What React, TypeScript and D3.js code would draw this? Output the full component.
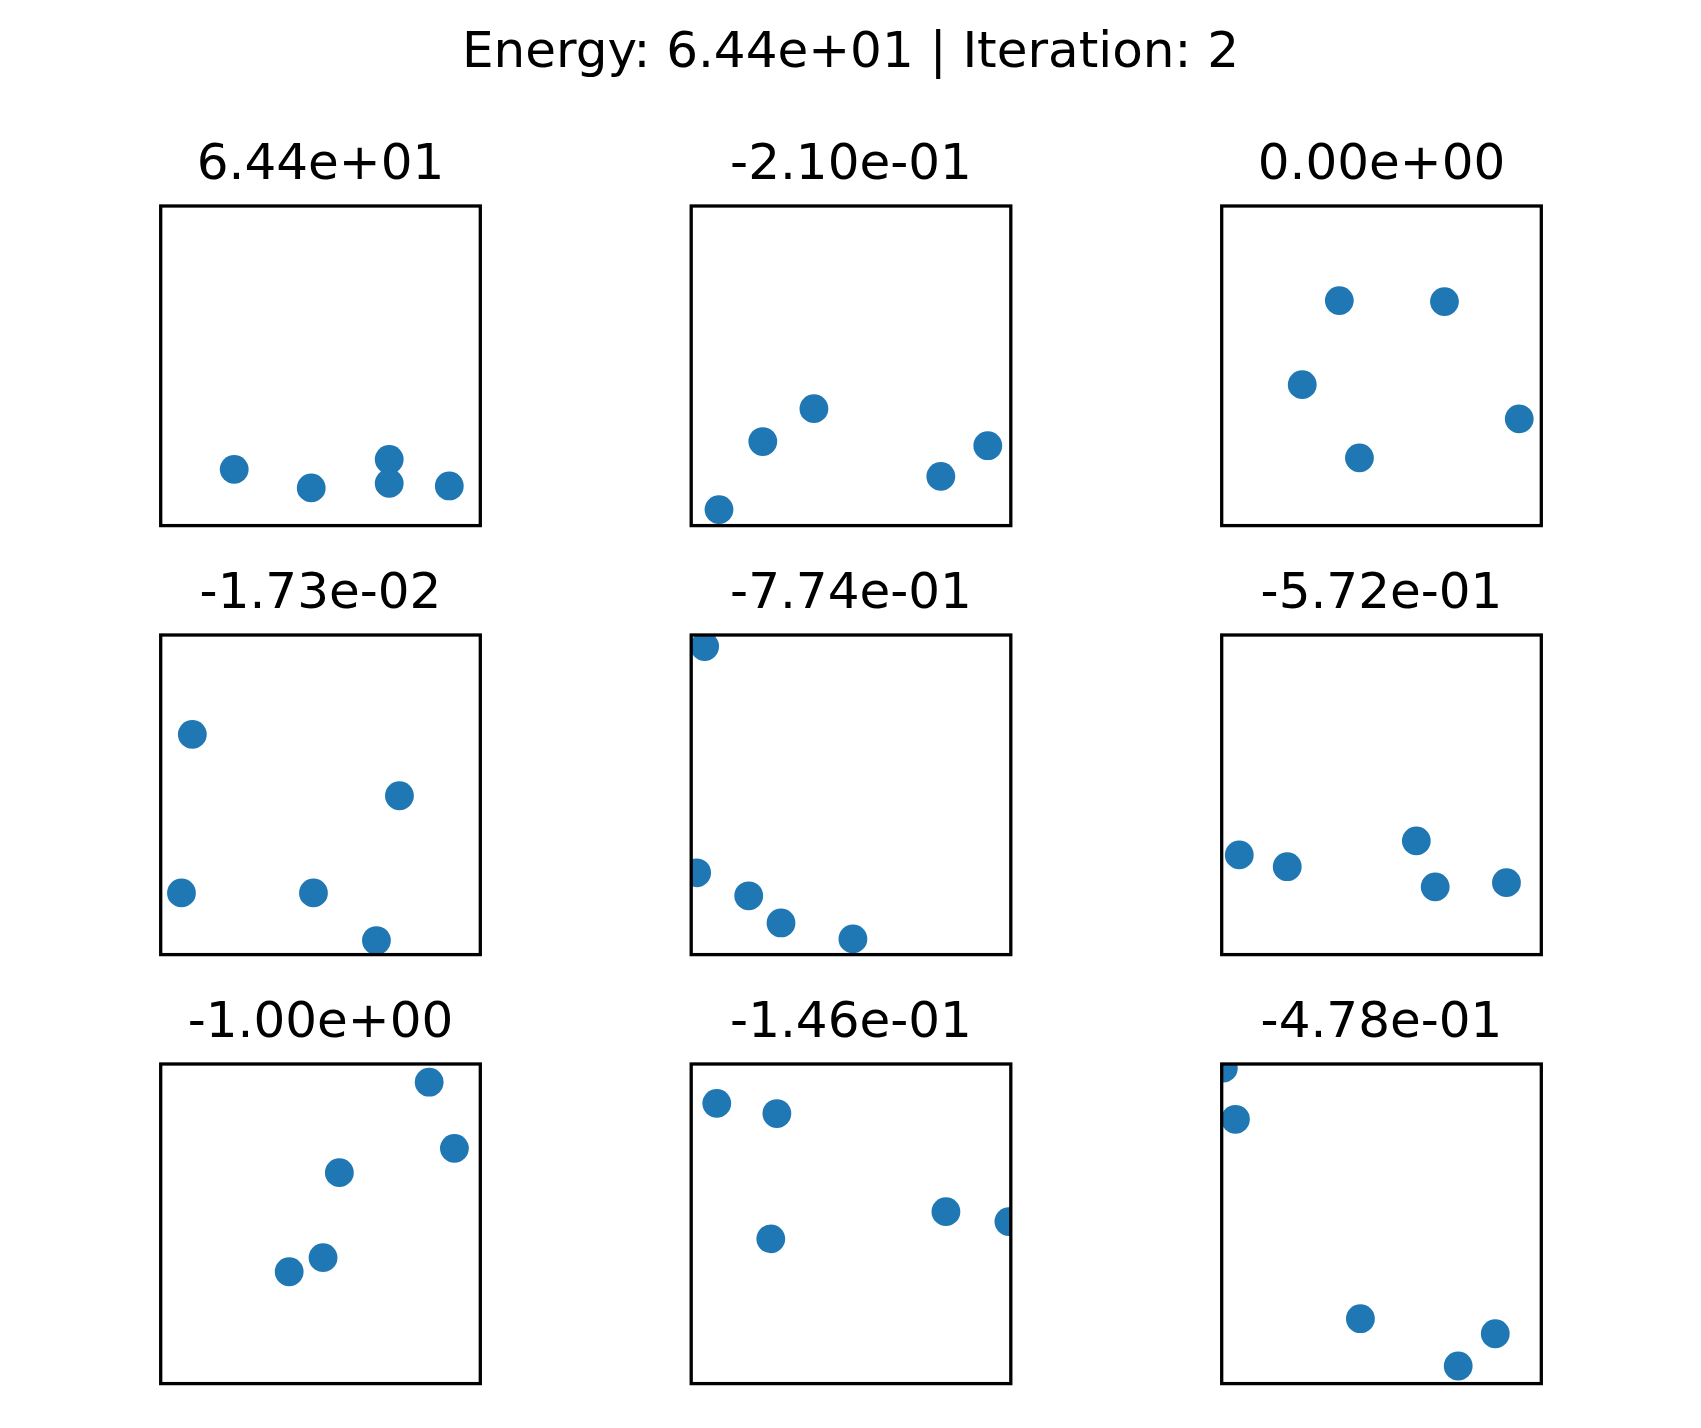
import React, { useEffect, useRef } from 'react';
import * as d3 from 'd3';

// Figure-level title
const suptitle = 'Energy: 6.44e+01 | Iteration: 2';

// One title per panel (row-major, 3x3)
const panelTitles = [
  '6.44e+01', '-2.10e-01', '0.00e+00',
  '-1.73e-02', '-7.74e-01', '-5.72e-01',
  '-1.00e+00', '-1.46e-01', '-4.78e-01',
];

// Point x positions per panel (axes run 0..1)
const panelX = [
  [0.230, 0.471, 0.715, 0.715, 0.903],
  [0.087, 0.224, 0.384, 0.781, 0.928],
  [0.368, 0.697, 0.252, 0.931, 0.431],
  [0.099, 0.747, 0.065, 0.478, 0.675],
  [0.042, 0.017, 0.180, 0.281, 0.506],
  [0.055, 0.205, 0.609, 0.668, 0.891],
  [0.840, 0.919, 0.559, 0.508, 0.402],
  [0.080, 0.268, 0.797, 0.994, 0.249],
  [0.005, 0.043, 0.434, 0.856, 0.740],
];

// Point y positions per panel
const panelY = [
  [0.176, 0.118, 0.207, 0.132, 0.124],
  [0.050, 0.263, 0.366, 0.154, 0.250],
  [0.704, 0.701, 0.441, 0.334, 0.212],
  [0.689, 0.497, 0.193, 0.193, 0.044],
  [0.964, 0.256, 0.184, 0.099, 0.049],
  [0.312, 0.275, 0.356, 0.212, 0.225],
  [0.943, 0.736, 0.660, 0.394, 0.350],
  [0.877, 0.845, 0.538, 0.507, 0.453],
  [0.987, 0.827, 0.203, 0.156, 0.055],
];

const App: React.FC = () => {
  const svgRef = useRef<SVGSVGElement>(null);

  useEffect(() => {
    if (!svgRef.current) return;
    const width = 1701;
    const height = 1428;
    const svg = d3.select(svgRef.current);
    svg.selectAll('*').remove();
    svg.attr('width', width).attr('height', height);

    svg
      .append('rect')
      .attr('width', width)
      .attr('height', height)
      .attr('fill', '#ffffff');

    // Layout of the 3x3 grid
    const size = 319.6;
    const left = 160.7;
    const colStep = 530.5;
    const top = 206;
    const rowStep = 429;
    const font = '"DejaVu Sans", sans-serif';

    svg
      .append('text')
      .attr('x', width / 2)
      .attr('y', 67)
      .attr('text-anchor', 'middle')
      .attr('font-family', font)
      .attr('font-size', 50)
      .attr('fill', '#000')
      .text(suptitle);

    const x = d3.scaleLinear().domain([0, 1]).range([0, size]);
    const y = d3.scaleLinear().domain([0, 1]).range([size, 0]);

    panelTitles.forEach((title, i) => {
      const col = i % 3;
      const row = Math.floor(i / 3);
      const g = svg
        .append('g')
        .attr('transform', `translate(${left + col * colStep},${top + row * rowStep})`);

      const clipId = `clip-${i}`;
      g.append('clipPath')
        .attr('id', clipId)
        .append('rect')
        .attr('width', size)
        .attr('height', size);

      const pts = panelX[i].map((v, j) => ({ x: v, y: panelY[i][j] }));

      g.append('g')
        .attr('clip-path', `url(#${clipId})`)
        .selectAll('circle')
        .data(pts)
        .enter()
        .append('circle')
        .attr('cx', d => x(d.x))
        .attr('cy', d => y(d.y))
        .attr('r', 14.4)
        .attr('fill', '#1f77b4');

      // Frame (spines)
      g.append('rect')
        .attr('width', size)
        .attr('height', size)
        .attr('fill', 'none')
        .attr('stroke', '#000')
        .attr('stroke-width', 3.3);

      g.append('text')
        .attr('x', size / 2)
        .attr('y', -27)
        .attr('text-anchor', 'middle')
        .attr('font-family', font)
        .attr('font-size', 50)
        .attr('fill', '#000')
        .text(title);
    });
  }, []);

  return (
    <div style={{ position: 'absolute', left: 0, top: 0 }}>
      <svg ref={svgRef} style={{ display: 'block' }}></svg>
    </div>
  );
};

export default App;
